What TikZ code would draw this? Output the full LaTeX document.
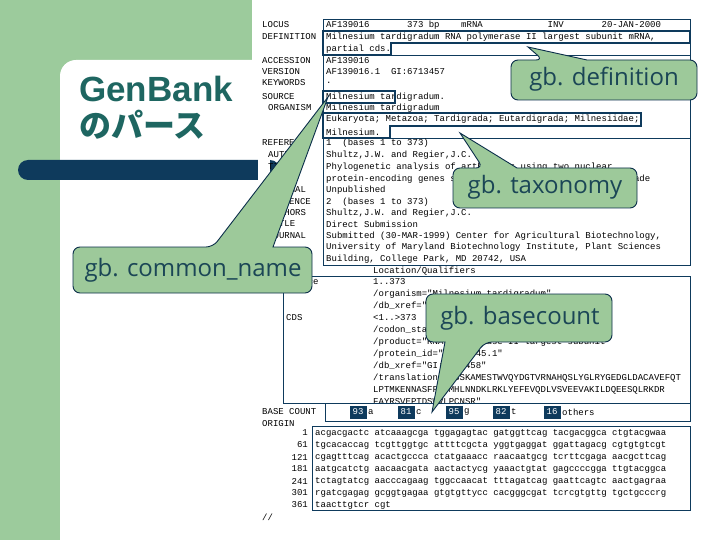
\documentclass[tikz,border=0pt]{standalone}
\usepackage{fontspec}
\setmainfont{Liberation Sans}
\newfontfamily\monof{Liberation Mono}
\newfontfamily\calf{Open Sans}
\newfontfamily\jpf{Noto Sans CJK JP}
\definecolor{bggreen}{HTML}{9CCB9C}
\definecolor{navy}{HTML}{0E3A5C}
\definecolor{teal}{HTML}{1E6661}
\definecolor{calltxt}{HTML}{1B4656}
\definecolor{callfill}{HTML}{9DC99A}
\tikzset{
  mono/.style={font=\monof\fontsize{9}{10}\selectfont, anchor=west, inner sep=0pt},
  monor/.style={font=\monof\fontsize{9}{10}\selectfont, anchor=east, inner sep=0pt},
  rec/.style={draw=navy, line width=0.8pt},
  hl/.style={draw=navy, line width=2.6pt},
  callout/.style={fill=callfill, draw=navy!80!black, line width=0.9pt},
  calltext/.style={font=\calf\fontsize{24}{26}\selectfont, text=calltxt, inner sep=0pt},
  cnt/.style={fill=navy, text=white, font=\monof\fontsize{9}{10}\selectfont, minimum width=17pt, minimum height=13pt, inner sep=0pt}
}
\newcommand\Ln[4]{\node[mono] (#1) at (#2,#3) {#4};}
\begin{document}
\begin{tikzpicture}[x=1pt,y=-1pt]
\useasboundingbox (0,0) rectangle (720,540);
% background
\fill[bggreen] (0,0) rectangle (252,540);
\fill[white] (252,0) rectangle (720,540);
\fill[white,rounded corners=16pt] (60,60) rectangle (270,560);
\fill[navy,rounded corners=10pt] (18,160) rectangle (280,180);
\fill[white] (258,150) rectangle (270,190);
\node[anchor=west,inner sep=0pt,text=teal,font=\fontsize{35}{36}\selectfont\bfseries] (t1) at (79,89) {GenBank};
\node[anchor=west,inner sep=0pt,text=teal,font=\jpf\fontsize{32}{34}\selectfont\bfseries] (t2) at (79,125) {のパース};
% record header boxes
\draw[rec] (323,19) rectangle (690,265);
\draw[rec] (323,31) -- (690,31);
\draw[rec] (323,55) -- (690,55);
\draw[rec] (323,138) -- (690,138);
\Ln{l1}{262}{25}{LOCUS}
\Ln{l2}{262}{37}{DEFINITION}
\Ln{l3}{262}{61}{ACCESSION}
\Ln{l4}{262}{72}{VERSION}
\Ln{l5}{262}{83}{KEYWORDS}
\Ln{l6}{262}{97}{SOURCE}
\Ln{l7}{268}{108}{ORGANISM}
\Ln{l8}{262}{143}{REFERENCE}
\Ln{l9}{268}{155}{AUTHORS}
\Ln{l10}{268}{167}{TITLE}
\Ln{l11}{268}{190}{JOURNAL}
\Ln{l12}{262}{202}{REFERENCE}
\Ln{l13}{268}{213}{AUTHORS}
\Ln{l14}{268}{224}{TITLE}
\Ln{l15}{268}{236}{JOURNAL}
\Ln{v1}{326}{25}{AF139016~~~~~~~373~bp~~~~mRNA~~~~~~~~~~~~INV~~~~~~~20-JAN-2000}
\Ln{v2}{326}{37}{Milnesium tardigradum RNA polymerase II largest subunit mRNA,}
\Ln{v3}{326}{49}{partial cds.}
\Ln{v4}{326}{61}{AF139016}
\Ln{v5}{326}{72}{AF139016.1~~GI:6713457}
\Ln{v6}{326}{83}{.}
\Ln{v7}{326}{97}{Milnesium tardigradum.}
\Ln{v8}{326}{108}{Milnesium tardigradum}
\Ln{v9}{326}{119}{Eukaryota; Metazoa; Tardigrada; Eutardigrada; Milnesiidae;}
\Ln{v10}{326}{132}{Milnesium.}
\Ln{v11}{326}{143}{1~~(bases 1 to 373)}
\Ln{v12}{326}{155}{Shultz,J.W. and Regier,J.C.}
\Ln{v13}{326}{167}{Phylogenetic analysis of arthropods using two nuclear}
\Ln{v14}{326}{179}{protein-encoding genes supports a crustacean + hexapod clade}
\Ln{v15}{326}{190}{Unpublished}
\Ln{v16}{326}{202}{2~~(bases 1 to 373)}
\Ln{v17}{326}{213}{Shultz,J.W. and Regier,J.C.}
\Ln{v18}{326}{224}{Direct Submission}
\Ln{v19}{326}{236}{Submitted (30-MAR-1999) Center for Agricultural Biotechnology,}
\Ln{v20}{326}{247}{University of Maryland Biotechnology Institute, Plant Sciences}
\Ln{v21}{326}{259}{Building, College Park, MD 20742, USA}
% highlights
\draw[hl] (323,31) -- (690,31) -- (690,43) -- (391,43) -- (391,55) -- (323,55) -- cycle;
\draw[hl] (323,91) rectangle (395,103);
\draw[hl] (323,113) -- (641,113) -- (641,126) -- (390,126) -- (390,138) -- (323,138) -- cycle;
% features
\Ln{f0}{373}{271}{Location/Qualifiers}
\draw[rec] (283,276) -- (690,276) -- (690,403) -- (283,403) -- cycle;
\Ln{f1}{286}{282}{source}
\Ln{f2}{373}{282}{1..373}
\Ln{f3}{373}{294}{/organism="Milnesium tardigradum"}
\Ln{f4}{373}{306}{/db\_xref="taxon:46460"}
\Ln{f5}{286}{318}{CDS}
\Ln{f6}{373}{318}{<1..>373}
\Ln{f7}{373}{330}{/codon\_start=1}
\Ln{f8}{373}{342}{/product="RNA polymerase II largest subunit"}
\Ln{f9}{373}{354}{/protein\_id="AAF12345.1"}
\Ln{f10}{373}{366}{/db\_xref="GI:6713458"}
\Ln{f11}{373}{378}{/translation="TSSKAMESTWVQYDGTVRNAHQSLYGLRYGEDGLDACAVEFQT}
\Ln{f12}{373}{390}{LPTMKENNASFFRMMHLNNDKLRKLYEFEVQDLVSVEEVAKILDQEESQLRKDR}
\Ln{f13}{373}{401}{FAYRSVEPTDSWVLPCNSR"}
% base count
\draw[rec] (325,403) rectangle (690,421);
\Ln{b0}{262}{412}{BASE COUNT}
\Ln{b00}{262}{424}{ORIGIN}
\node[cnt] (c1) at (358,412) {93};
\Ln{c1t}{368}{412}{a}
\node[cnt] (c2) at (406,412) {81};
\Ln{c2t}{416}{412}{c}
\node[cnt] (c3) at (454,412) {95};
\Ln{c3t}{464}{412}{g}
\node[cnt] (c4) at (501,412) {82};
\Ln{c4t}{511}{412}{t}
\node[cnt] (c5) at (552,412) {16};
\Ln{c5t}{562}{412}{others}
% sequence
\draw[rec] (312,426) rectangle (690,510);
\node[monor] (n1) at (308,433) {1};
\node[monor] (n2) at (308,445) {61};
\node[monor] (n3) at (308,457) {121};
\node[monor] (n4) at (308,469) {181};
\node[monor] (n5) at (308,481) {241};
\node[monor] (n6) at (308,493) {301};
\node[monor] (n7) at (308,505) {361};
\Ln{s1}{315}{433}{acgacgactc atcaaagcga tggagagtac gatggttcag tacgacggca ctgtacgwaa}
\Ln{s2}{315}{445}{tgcacaccag tcgttggtgc attttcgcta yggtgaggat ggattagacg cgtgtgtcgt}
\Ln{s3}{315}{457}{cgagtttcag acactgccca ctatgaaacc raacaatgcg tcrttcgaga aacgcttcag}
\Ln{s4}{315}{469}{aatgcatctg aacaacgata aactactycg yaaactgtat gagccccgga ttgtacggca}
\Ln{s5}{315}{481}{tctagtatcg aacccagaag tggccaacat tttagatcag gaattcagtc aactgagraa}
\Ln{s6}{315}{493}{rgatcgagag gcggtgagaa gtgtgttycc cacgggcgat tcrcgtgttg tgctgcccrg}
\Ln{s7}{315}{505}{taacttgtcr cgt}
\Ln{end}{262}{517}{//}
% callouts
\draw[callout] (543,60) -- (528,47) -- (587,60) [rounded corners=7pt] -- (697,60) -- (697,100) -- (511,100) -- (511,60) -- cycle;
\node[calltext] (k1) at (604,79) {gb. definition};
\draw[callout] (483,168) -- (460,133) -- (517,168) [rounded corners=7pt] -- (637,168) -- (637,208) -- (453,208) -- (453,168) -- cycle;
\node[calltext] (k2) at (545,187) {gb. taxonomy};
\draw[callout] (213,247) -- (328,97) -- (273,247) [rounded corners=7pt] -- (312,247) -- (312,293) -- (73,293) -- (73,247) -- cycle;
\node[calltext] (k3) at (193,270) {gb. common\_name};
\draw[callout] (485,342) -- (432,412) -- (445,342) [rounded corners=7pt] -- (426,342) -- (426,294) -- (612,294) -- (612,342) -- cycle;
\node[calltext] (k4) at (520,318) {gb. basecount};
\end{tikzpicture}
\end{document}
